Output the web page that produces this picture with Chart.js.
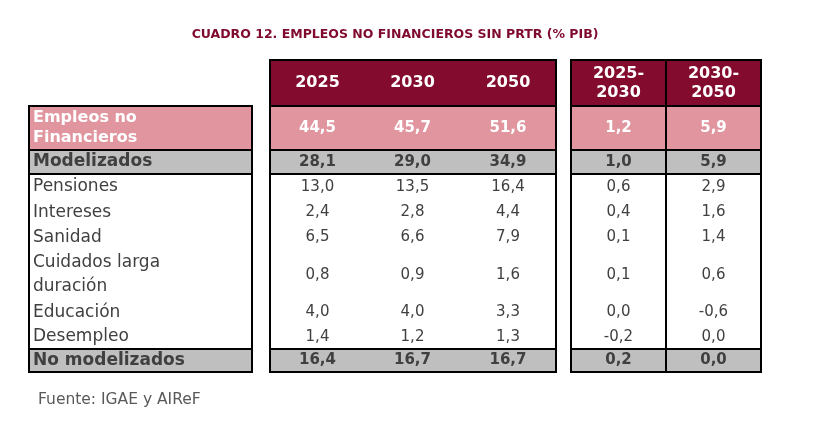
<!DOCTYPE html>
<html>
<head>
<meta charset="utf-8">
<script src="https://cdn.jsdelivr.net/npm/chart.js@4.4.1/dist/chart.umd.min.js"></script>
<style>
  html, body { margin: 0; padding: 0; background: #fff; }
</style>
</head>
<body>
<canvas id="cuadro" width="814" height="426"></canvas>
<script>
// rows and columns of the table
const rowLabels = [['Empleos no', 'Financieros'], 'Modelizados', 'Pensiones', 'Intereses', 'Sanidad',
                   ['Cuidados larga', 'duración'], 'Educación', 'Desempleo', 'No modelizados'];
const colLabels = ['2025', '2030', '2050', ['2025-', '2030'], ['2030-', '2050']];

const v2025 = [44.5, 28.1, 13.0, 2.4, 6.5, 0.8, 4.0, 1.4, 16.4];
const v2030 = [45.7, 29.0, 13.5, 2.8, 6.6, 0.9, 4.0, 1.2, 16.7];
const v2050 = [51.6, 34.9, 16.4, 4.4, 7.9, 1.6, 3.3, 1.3, 16.7];
const d2530 = [1.2, 1.0, 0.6, 0.4, 0.1, 0.1, 0.0, -0.2, 0.2];
const d3050 = [5.9, 5.9, 2.9, 1.6, 1.4, 0.6, -0.6, 0.0, 0.0];

const columns = [v2025, v2030, v2050, d2530, d3050];
const rowStyle = ['total', 'sub', 'plain', 'plain', 'plain', 'plain', 'plain', 'plain', 'sub'];

// layout, in table units
const colWidths = [223, 18, 95, 95, 96, 15, 95, 95];   // label, gap, 3 years, gap, 2 diffs
const valueCols = [2, 3, 4, 6, 7];
const rowHeights = [46, 44, 24, 26, 25, 25, 50, 25, 24, 23]; // header + 9 rows

const RED = '#830b2e', PINK = '#e0959f', GREY = '#bfbfbf', INK = '#404040';
const FONT = '"DejaVu Sans", sans-serif';

const edge = (arr, i) => arr.slice(0, i).reduce((a, b) => a + b, 0);
const colMid = i => edge(colWidths, i) + colWidths[i] / 2;
const rowMid = i => edge(rowHeights, i) + rowHeights[i] / 2;
const fmt = v => v.toFixed(1).replace('-0.0', '0.0').replace('.', ',');

const datasets = columns.map((vals, c) => ({
    label: [].concat(colLabels[c]).join(''),
    data: vals.map((v, i) => ({ x: colMid(valueCols[c]), y: rowMid(i + 1), v: v })),
    pointRadius: 0
}));

function textLines(ctx, lines, x, y, gap) {
    lines = [].concat(lines);
    const top = y - gap * (lines.length - 1) / 2;
    lines.forEach((t, k) => ctx.fillText(t, x, top + k * gap));
}

const tablePlugin = {
    id: 'tabla',
    beforeDatasetsDraw(chart) {
        const { ctx, scales: { x, y } } = chart;
        const X = u => x.getPixelForValue(u), Y = u => y.getPixelForValue(u);
        const xe = i => X(edge(colWidths, i)), ye = i => Y(edge(rowHeights, i));
        const nRows = rowHeights.length;
        ctx.save();

        // header band
        ctx.fillStyle = RED;
        ctx.fillRect(xe(2), ye(0), xe(5) - xe(2), ye(1) - ye(0));
        ctx.fillRect(xe(6), ye(0), xe(8) - xe(6), ye(1) - ye(0));

        // row bands
        rowStyle.forEach((s, i) => {
            if (s === 'plain') return;
            ctx.fillStyle = s === 'total' ? PINK : GREY;
            const t = ye(i + 1), h = ye(i + 2) - t;
            ctx.fillRect(xe(0), t, xe(1) - xe(0), h);
            ctx.fillRect(xe(2), t, xe(5) - xe(2), h);
            ctx.fillRect(xe(6), t, xe(8) - xe(6), h);
        });

        // borders
        ctx.strokeStyle = '#000';
        ctx.lineWidth = 2;
        const boxes = [[0, 1, 1], [2, 5, 0], [6, 8, 0]];
        boxes.forEach(([c0, c1, r0]) => {
            ctx.strokeRect(xe(c0), ye(r0), xe(c1) - xe(c0), ye(nRows) - ye(r0));
            [1, 2, 3, nRows - 1].forEach(r => {
                ctx.beginPath();
                ctx.moveTo(xe(c0), ye(r));
                ctx.lineTo(xe(c1), ye(r));
                ctx.stroke();
            });
        });
        ctx.beginPath();
        ctx.moveTo(xe(7), ye(0));
        ctx.lineTo(xe(7), ye(nRows));
        ctx.stroke();

        // header text
        ctx.fillStyle = '#fff';
        ctx.font = 'bold 16px ' + FONT;
        ctx.textAlign = 'center';
        ctx.textBaseline = 'middle';
        colLabels.forEach((l, c) => textLines(ctx, l, X(colMid(valueCols[c])), Y(rowMid(0)), 19));

        // row labels
        ctx.textAlign = 'left';
        rowLabels.forEach((l, i) => {
            const s = rowStyle[i];
            ctx.fillStyle = s === 'total' ? '#fff' : INK;
            ctx.font = (s === 'plain' ? '' : 'bold ') + (s === 'total' ? '16px ' : '17px ') + FONT;
            textLines(ctx, l, X(edge(colWidths, 0) + 4), Y(rowMid(i + 1)), s === 'total' ? 20 : 24);
        });

        // source
        ctx.fillStyle = '#595959';
        ctx.font = '15.5px ' + FONT;
        ctx.fillText('Fuente: IGAE y AIReF', X(9), Y(edge(rowHeights, nRows)) + 28);
        ctx.restore();
    },
    afterDatasetsDraw(chart) {
        const { ctx } = chart;
        ctx.save();
        ctx.textAlign = 'center';
        ctx.textBaseline = 'middle';
        chart.data.datasets.forEach((ds, c) => {
            chart.getDatasetMeta(c).data.forEach((pt, i) => {
                const s = rowStyle[i];
                ctx.fillStyle = s === 'total' ? '#fff' : INK;
                ctx.font = (s === 'plain' ? '' : 'bold ') + '15px ' + FONT;
                ctx.fillText(fmt(ds.data[i].v), pt.x, pt.y);
            });
        });
        ctx.restore();
    }
};

const config = {
    type: 'scatter',
    data: { datasets: datasets },
    options: {
        responsive: false,
        animation: false,
        events: [],
        layout: { padding: { left: 29, right: 53, top: 27, bottom: 54 } },
        scales: {
            x: { type: 'linear', display: false, min: 0, max: edge(colWidths, colWidths.length) },
            y: { type: 'linear', display: false, min: 0, max: edge(rowHeights, rowHeights.length), reverse: true }
        },
        plugins: {
            legend: { display: false },
            tooltip: { enabled: false },
            title: {
                display: true,
                text: 'CUADRO 12. EMPLEOS NO FINANCIEROS SIN PRTR (% PIB)',
                color: '#7f0a2e',
                font: { family: FONT, size: 12.5, weight: 'bold', lineHeight: 1.2 },
                padding: { top: 0, bottom: 18 }
            }
        }
    },
    plugins: [tablePlugin]
};

const cuadro = new Chart(document.getElementById('cuadro'), config);
</script>
</body>
</html>
